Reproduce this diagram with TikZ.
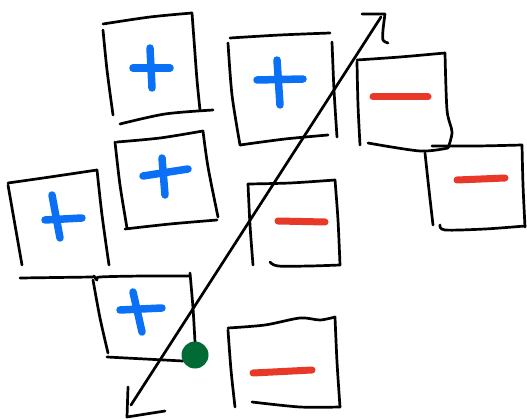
\documentclass[tikz,border=0pt]{standalone}
\definecolor{plusblue}{RGB}{10,112,245}
\definecolor{minusred}{RGB}{232,57,40}
\definecolor{dotgreen}{RGB}{0,107,53}
\tikzset{
  pen/.style={black, line width=2.7pt, line cap=round, line join=round},
  plusmark/.style={plusblue, line width=7.5pt, line cap=round},
  minusmark/.style={minusred, line width=7pt, line cap=round},
}
\begin{document}
\begin{tikzpicture}[x=1pt, y=-1pt]
\useasboundingbox (0,0) rectangle (527,419);

% top-left positive box
\draw[pen] plot[smooth] coordinates {(103,24) (150,17) (192,13)};
\draw[pen] plot[smooth] coordinates {(192,13) (194,40) (197,80) (200,110)};
\draw[pen] plot[smooth] coordinates {(103,30) (107,70) (113,115)};
\draw[pen] plot[smooth] coordinates {(120,124) (165,114) (213,110)};
\draw[plusmark] (150,48) -- (152,88);
\draw[plusmark] (133,68) -- (170,68);

% top-middle positive box
\draw[pen] plot[smooth] coordinates {(230,38) (280,35) (330,33)};
\draw[pen] plot[smooth] coordinates {(228,43) (232,95) (240,145)};
\draw[pen] plot[smooth] coordinates {(332,42) (334,90) (337,137)};
\draw[pen] plot[smooth] coordinates {(240,145) (285,139) (328,135)};
\draw[plusmark] (277,60) -- (280,105);
\draw[plusmark] (257,80) -- (303,79);

% top-right negative box
\draw[pen] plot[smooth] coordinates {(357,60) (400,57) (445,53)};
\draw[pen] plot[smooth] coordinates {(357,62) (358,105) (360,145)};
\draw[pen] plot[smooth] coordinates {(445,53) (447,110) (452,132) (448,148)};
\draw[pen] plot[smooth] coordinates {(368,143) (420,151) (448,148)};
\draw[minusmark] (373,97) -- (428,97);

% far-right negative box
\draw[pen] plot[smooth] coordinates {(432,146) (477,146) (522,145)};
\draw[pen] plot[smooth] coordinates {(425,153) (429,190) (433,225)};
\draw[pen] plot[smooth] coordinates {(522,145) (523,185) (525,227)};
\draw[pen] plot[smooth] coordinates {(440,225) (445,230) (485,229) (525,226)};
\draw[minusmark] (457,180) -- (505,178);

% middle positive box
\draw[pen] plot[smooth] coordinates {(117,142) (160,138) (203,131)};
\draw[pen] plot[smooth] coordinates {(115,142) (120,185) (127,228)};
\draw[pen] plot[smooth] coordinates {(203,131) (208,167) (218,217)};
\draw[pen] plot[smooth] coordinates {(125,229) (170,224) (217,220)};
\draw[plusmark] (162,158) -- (165,195);
\draw[plusmark] (143,176) -- (188,169);

% left positive box
\draw[pen] plot[smooth] coordinates {(8,183) (50,177) (97,170)};
\draw[pen] plot[smooth] coordinates {(8,185) (15,225) (22,265)};
\draw[pen] plot[smooth] coordinates {(97,170) (102,215) (109,265)};
\draw[pen] (20,278) -- (93,277);
\draw[plusmark] (52,195) -- (60,238);
\draw[plusmark] (45,220) -- (82,218);

% lower positive box
\draw[pen] plot[smooth] coordinates {(94,276) (97,280) (100,277) (145,276) (190,276)};
\draw[pen] plot[smooth] coordinates {(93,280) (100,318) (108,353)};
\draw[pen] plot[smooth] coordinates {(190,273) (193,308) (195,342)};
\draw[pen] (107,357) -- (183,361);
\draw[plusmark] (133,292) -- (142,332);
\draw[plusmark] (120,310) -- (162,308);
\node[circle, fill=dotgreen, minimum size=27pt, inner sep=0pt] (dot) at (195,355) {};

% bottom negative box
\draw[pen] plot[smooth] coordinates {(228,328) (265,325) (300,318) (320,320) (335,317)};
\draw[pen] plot[smooth] coordinates {(228,330) (231,370) (235,407)};
\draw[pen] plot[smooth] coordinates {(335,317) (337,362) (340,407)};
\draw[pen] plot[smooth] coordinates {(252,402) (300,407) (340,407)};
\draw[minusmark] (253,373) -- (312,370);

% middle negative box
\draw[pen] plot[smooth] coordinates {(248,184) (290,183) (335,180)};
\draw[pen] plot[smooth] coordinates {(248,184) (250,225) (253,265)};
\draw[pen] plot[smooth] coordinates {(335,180) (338,220) (340,265)};
\draw[pen] plot[smooth] coordinates {(270,262) (278,266) (310,266) (340,265)};
\draw[minusmark] (278,221) -- (325,222);

% two-headed diagonal arrow
\coordinate (lo) at (131,405);
\coordinate (hi) at (381,17);
\draw[pen] (lo) -- (hi);
\draw[pen] (362,14) -- (385,14) plot[smooth] coordinates {(385,14) (383,30) (383,40) (388,43)};
\draw[pen] (128,387) -- (127,417) -- (165,411);
\end{tikzpicture}
\end{document}
